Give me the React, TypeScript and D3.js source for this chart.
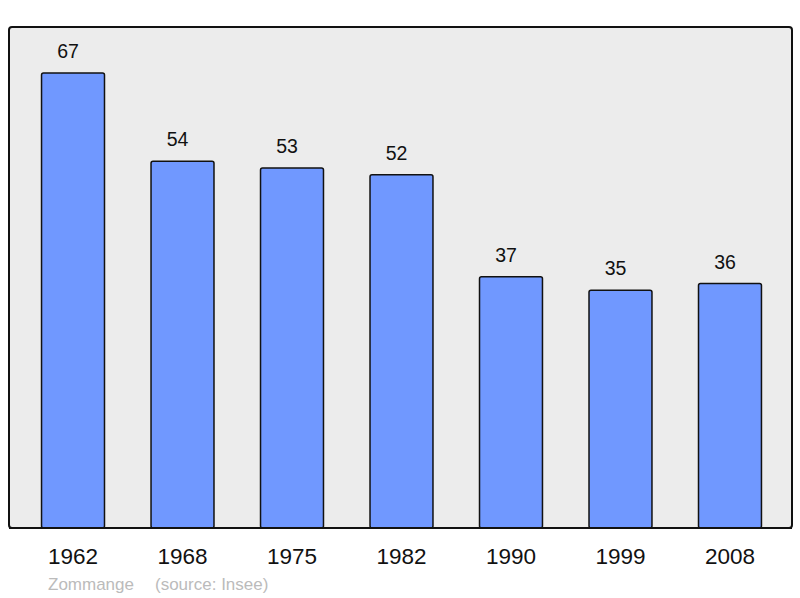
import React from "react";
import * as d3 from "d3";

const years = ["1962", "1968", "1975", "1982", "1990", "1999", "2008"];
const population = [67, 54, 53, 52, 37, 35, 36];
const footerName = "Zommange";
const footerSource = "(source: Insee)";

const width = 800;
const height = 598;
const panel = { left: 9, right: 792, top: 27, bottom: 528 };

export default function App() {
  const x = d3
    .scaleBand<string>()
    .domain(years)
    .range([panel.left + 1, panel.right + 1])
    .paddingInner(0.425)
    .paddingOuter(0.288);

  const y = d3
    .scaleLinear()
    .domain([0, 67])
    .range([panel.bottom, 73]);

  const font = "'Liberation Sans', Arial, sans-serif";

  return (
    <svg
      width={width}
      height={height}
      style={{ position: "absolute", left: 0, top: 0, background: "#fff" }}
    >
      <rect
        x={panel.left}
        y={panel.top}
        width={panel.right - panel.left}
        height={panel.bottom - panel.top}
        rx={3}
        fill="#ececec"
        stroke="#111"
        strokeWidth={2}
      />
      {years.map((yr, i) => {
        const bx = x(yr)!;
        const v = population[i];
        const cx = bx + x.bandwidth() / 2;
        return (
          <g key={yr}>
            <rect
              x={bx}
              y={y(v)}
              width={x.bandwidth()}
              height={y(0) - y(v)}
              rx={2}
              fill="#7098ff"
              stroke="#111"
              strokeWidth={1.5}
            />
            <text
              x={cx - 5}
              y={y(v) - 15}
              textAnchor="middle"
              fontFamily={font}
              fontSize={19.5}
              fill="#111"
            >
              {v}
            </text>
            <text
              x={cx}
              y={564}
              textAnchor="middle"
              fontFamily={font}
              fontSize={22.5}
              fill="#111"
            >
              {yr}
            </text>
          </g>
        );
      })}
      <line
        x1={panel.left}
        x2={panel.right}
        y1={panel.bottom}
        y2={panel.bottom}
        stroke="#111"
        strokeWidth={2}
      />
      <text x={48} y={590} fontFamily={font} fontSize={17} fill="#bbb">
        {footerName}
      </text>
      <text x={155} y={590} fontFamily={font} fontSize={17} fill="#bbb">
        {footerSource}
      </text>
    </svg>
  );
}
